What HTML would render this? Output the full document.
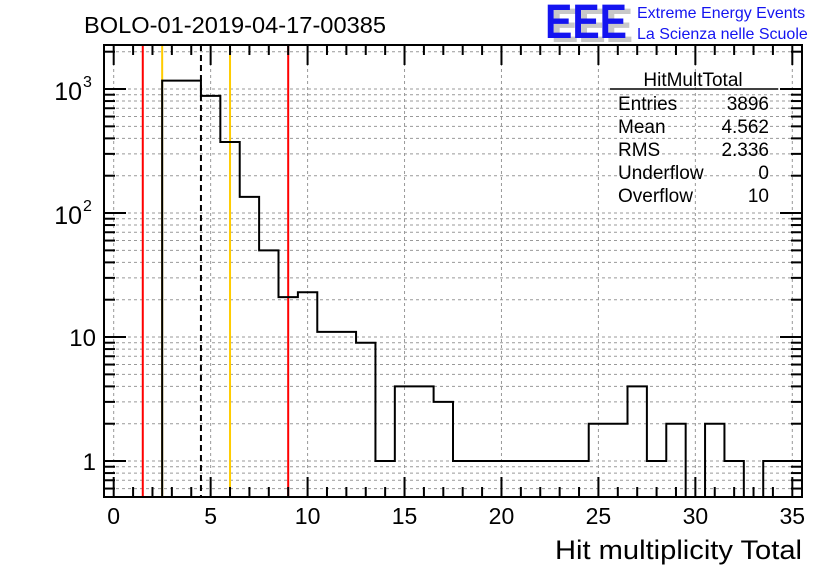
<!DOCTYPE html>
<html><head><meta charset="utf-8"><style>
body{margin:0;background:#fff;}
svg{display:block;font-family:"Liberation Sans",sans-serif;}
</style></head><body>
<svg id="c" width="836" height="572">
<rect width="836" height="572" fill="#fff"/>
<g id="grid"></g><g id="lines"></g><g id="hist"></g><g id="axes"></g>
<text x="84" y="33" font-size="23" textLength="302" lengthAdjust="spacingAndGlyphs">BOLO-01-2019-04-17-00385</text>
<g>
<text x="551" y="42" font-size="48" font-weight="bold" fill="#c8c8c8" textLength="82" lengthAdjust="spacingAndGlyphs">EEE</text>
<text x="545" y="38" font-size="48" font-weight="bold" fill="#1414f0" textLength="82" lengthAdjust="spacingAndGlyphs">EEE</text>
<text x="637" y="18" font-size="16" fill="#1414f0">Extreme Energy Events</text>
<text x="637" y="39" font-size="16" fill="#1414f0">La Scienza nelle Scuole</text>
</g>
<g font-size="19">
<text x="693" y="86" text-anchor="middle">HitMultTotal</text>
<line x1="610" y1="89" x2="778" y2="89" stroke="#000" stroke-width="1.5"/>
<text x="618" y="110">Entries</text><text x="769" y="110" text-anchor="end">3896</text>
<text x="618" y="133">Mean</text><text x="769" y="133" text-anchor="end">4.562</text>
<text x="618" y="156">RMS</text><text x="769" y="156" text-anchor="end">2.336</text>
<text x="618" y="179">Underflow</text><text x="769" y="179" text-anchor="end">0</text>
<text x="618" y="202">Overflow</text><text x="769" y="202" text-anchor="end">10</text>
</g>
<text x="802" y="559" font-size="27" text-anchor="end" textLength="247" lengthAdjust="spacingAndGlyphs">Hit multiplicity Total</text>
</svg>
<script>
const binLow = [2.5,3.5,4.5,5.5,6.5,7.5,8.5,9.5,10.5,11.5,12.5,13.5,14.5,15.5,16.5,17.5,18.5,19.5,20.5,21.5,22.5,23.5,24.5,25.5,26.5,27.5,28.5,29.5,30.5,31.5,32.5,33.5,34.5];
const counts = [1170,1170,880,374,135,50,21,23,11,11,9,1,4,4,3,1,1,1,1,1,1,1,2,2,4,1,2,0,2,1,0,1,1];
const xTicks = [0,5,10,15,20,25,30,35];
const yDecades = [1,10,100,1000];
const yBase = ["1","10","10","10"];
const yExp = ["","","2","3"];
const redCuts = [1.5,9];
const orangeCuts = [2.5,6];
const dashedCut = [4.5];
const X0=104,X1=802,Y0=45,Y1=497,xmin=-0.5,xmax=35.5,lmin=Math.log10(0.513),lmax=Math.log10(2265);
const sx=v=>X0+(v-xmin)/(xmax-xmin)*(X1-X0);
const sy=v=>v<=0?Y1:Math.max(Y0,Math.min(Y1,Y1-(Math.log10(v)-lmin)/(lmax-lmin)*(Y1-Y0)));
const NS="http://www.w3.org/2000/svg";
function mk(p,t,a){const e=document.createElementNS(NS,t);for(const k in a)e.setAttribute(k,a[k]);document.getElementById(p).appendChild(e);return e;}
for(const t of xTicks){const g=mk('grid','line',{x1:sx(t),x2:sx(t),y1:Y0,y2:Y1,stroke:'#999','stroke-dasharray':'3,3'});

}
for(let d=0.1;d<=1000;d*=10)for(let m=1;m<10;m++){const v=d*m;const y=sy(v);if(y<=Y0||y>=Y1)continue;
const g=mk('grid','line',{x1:X0,x2:X1,y1:y,y2:y,stroke:'#999','stroke-dasharray':'3,3'});


const l=m===1?22:11;
const t1=mk('axes','line',{x1:X0,x2:X0+l,y1:y,y2:y,stroke:'#000','stroke-width':2});


const t2=mk('axes','line',{x1:X1-l,x2:X1,y1:y,y2:y,stroke:'#000','stroke-width':2});

}
for(const c of redCuts){const e=mk('lines','line',{x1:sx(c),x2:sx(c),y1:Y0,y2:Y1,stroke:'#f00','stroke-width':2});

}
for(const c of orangeCuts){const e=mk('lines','line',{x1:sx(c),x2:sx(c),y1:Y0,y2:Y1,stroke:'#fc0','stroke-width':2});

}
for(const c of dashedCut){const e=mk('lines','line',{x1:sx(c),x2:sx(c),y1:Y0,y2:Y1,stroke:'#000','stroke-width':2,'stroke-dasharray':'6,4'});

}
let d='M'+X0+','+Y1+' L'+sx(binLow[0])+','+Y1;
for(let i=0;i<counts.length;i++){const y=sy(counts[i]);d+=' L'+sx(binLow[i])+','+y+' L'+Math.min(X1,sx(binLow[i]+1))+','+y;}
d+=' L'+X1+','+Y1;
const h=mk('hist','path',{d:d,fill:'none',stroke:'#000','stroke-width':2});


const f=mk('axes','rect',{x:X0,y:Y0,width:X1-X0,height:Y1-Y0,fill:'none',stroke:'#000','stroke-width':2});


for(let v=0;v<=35;v++){const x=sx(v);const l=v%5===0?20:10;
const a=mk('axes','line',{x1:x,x2:x,y1:Y1,y2:Y1-l,stroke:'#000','stroke-width':2});


const b=mk('axes','line',{x1:x,x2:x,y1:Y0,y2:Y0+l,stroke:'#000','stroke-width':2});

}
for(const t of xTicks){const e=mk('axes','text',{x:sx(t),y:524,'font-size':23,'text-anchor':'middle'});e.textContent=t;

}
yDecades.forEach((v,i)=>{const y=sy(v);
if(yExp[i]){
const e=mk('axes','text',{x:82,y:y+11,'font-size':25,'text-anchor':'end'});e.textContent=yBase[i];


const s=mk('axes','text',{x:83,y:y-2,'font-size':16,'text-anchor':'start'});s.textContent=yExp[i];


}else{
const e=mk('axes','text',{x:96,y:y+9,'font-size':24,'text-anchor':'end'});e.textContent=yBase[i];

}
});
</script>
</body></html>
